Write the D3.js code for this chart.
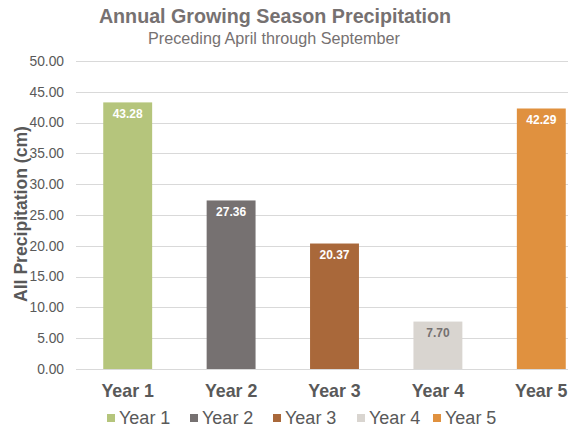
<!DOCTYPE html>
<html lang="en">
<head>
<meta charset="UTF-8">
<title>Annual Growing Season Precipitation</title>
<script src="https://d3js.org/d3.v7.min.js"></script>
<style>
  html, body { margin: 0; padding: 0; background: #fff; }
  svg { display: block; font-family: "Liberation Sans", Arial, sans-serif; }
  .grid line { stroke: #d9d9d9; stroke-width: 1; }
  .tick-label { font-size: 13.8px; fill: #595959; text-anchor: end; }
  .cat-label { font-size: 17.8px; font-weight: bold; fill: #595959; text-anchor: middle; }
  .val-label { font-size: 12px; font-weight: bold; text-anchor: middle; }
  .legend text { font-size: 18px; fill: #595959; }
</style>
</head>
<body>
<svg width="568" height="432"></svg>
<script>
const categories = ["Year 1", "Year 2", "Year 3", "Year 4", "Year 5"];
const values = [43.28, 27.36, 20.37, 7.70, 42.29];
const colors = ["#b5c57c", "#767171", "#a9683a", "#d9d5d0", "#e0913f"];
const yTicks = [0, 5, 10, 15, 20, 25, 30, 35, 40, 45, 50];

const svg = d3.select("svg");

const x = d3.scaleBand()
  .domain(categories)
  .range([76, 593])
  .paddingInner(0.527)
  .paddingOuter(0.2635);

const y = d3.scaleLinear().domain([0, 50]).range([369, 61]);

// gridlines
const grid = svg.append("g").attr("class", "grid");
grid.selectAll("line")
  .data(yTicks)
  .join("line")
  .attr("x1", 76).attr("x2", 568)
  .attr("y1", d => Math.round(y(d)) + 0.5)
  .attr("y2", d => Math.round(y(d)) + 0.5);

svg.selectAll(".tick-label")
  .data(yTicks)
  .join("text")
  .attr("class", "tick-label")
  .attr("x", 64)
  .attr("y", d => y(d))
  .attr("dy", "0.35em")
  .text(d => d.toFixed(2));

// bars
svg.selectAll(".bar")
  .data(values)
  .join("rect")
  .attr("class", "bar")
  .attr("x", (d, i) => x(categories[i]))
  .attr("width", x.bandwidth())
  .attr("y", d => y(d))
  .attr("height", d => y(0) - y(d))
  .attr("fill", (d, i) => colors[i]);

svg.selectAll(".val-label")
  .data(values)
  .join("text")
  .attr("class", "val-label")
  .attr("x", (d, i) => x(categories[i]) + x.bandwidth() / 2)
  .attr("y", d => y(d) + 15.5)
  .attr("fill", (d, i) => i === 3 ? "#767171" : "#ffffff")
  .text(d => d.toFixed(2));

svg.selectAll(".cat-label")
  .data(categories)
  .join("text")
  .attr("class", "cat-label")
  .attr("x", d => x(d) + x.bandwidth() / 2)
  .attr("y", 397)
  .text(d => d);

// titles
svg.append("text")
  .attr("x", 275).attr("y", 23)
  .attr("text-anchor", "middle")
  .attr("font-size", 19.7).attr("font-weight", "bold")
  .attr("fill", "#767171")
  .text("Annual Growing Season Precipitation");

svg.append("text")
  .attr("x", 274).attr("y", 44)
  .attr("text-anchor", "middle")
  .attr("font-size", 16.2)
  .attr("fill", "#767171")
  .text("Preceding April through September");

svg.append("text")
  .attr("transform", "translate(27,214) rotate(-90)")
  .attr("text-anchor", "middle")
  .attr("font-size", 17.6).attr("font-weight", "bold")
  .attr("fill", "#595959")
  .text("All Precipitation (cm)");

// legend
const legendX = [107, 190, 273, 357, 433];
const legend = svg.append("g").attr("class", "legend");
const items = legend.selectAll("g")
  .data(categories)
  .join("g")
  .attr("transform", (d, i) => `translate(${legendX[i]},418)`);
items.append("rect")
  .attr("x", 0).attr("y", -4)
  .attr("width", 8).attr("height", 8)
  .attr("fill", (d, i) => colors[i]);
items.append("text")
  .attr("x", 12).attr("y", 0)
  .attr("dy", "0.35em")
  .text(d => d);
</script>
</body>
</html>
